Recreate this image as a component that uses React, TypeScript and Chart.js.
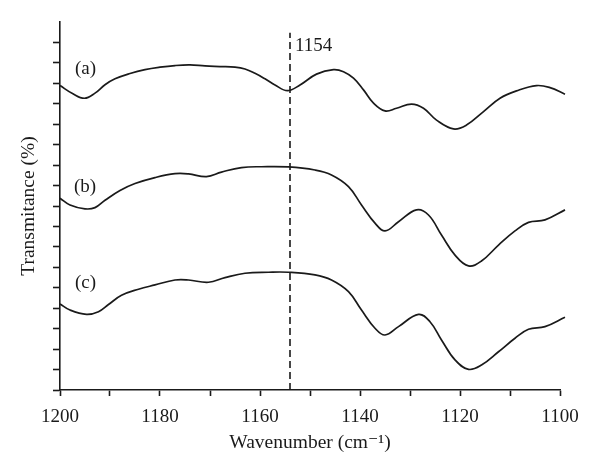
import React, { useEffect, useRef } from 'react';
import { Chart, registerables } from 'chart.js';

Chart.register(...registerables);

// Wavenumber (cm^-1) samples and transmittance values (arbitrary offset units) for each curve
const wavenumbersA = [1200, 1197.5, 1195.1, 1193, 1191, 1189, 1186, 1183, 1180, 1177, 1174, 1171, 1168, 1165, 1163, 1161, 1159, 1157, 1154.5, 1152, 1148.7, 1145.3, 1143.3, 1141.3, 1139.3, 1137.3, 1135, 1132.7, 1129.7, 1127.3, 1124.7, 1121.3, 1118.7, 1115.3, 1112, 1108.7, 1104.7, 1102, 1099];
const valuesA = [14.89, 14.5, 14.27, 14.52, 14.93, 15.22, 15.48, 15.67, 15.79, 15.87, 15.9, 15.85, 15.82, 15.79, 15.7, 15.49, 15.22, 14.92, 14.64, 14.92, 15.45, 15.67, 15.57, 15.25, 14.68, 14.03, 13.65, 13.78, 13.98, 13.78, 13.2, 12.77, 12.96, 13.62, 14.27, 14.63, 14.89, 14.79, 14.47];

const wavenumbersB = [1200, 1198, 1195, 1193, 1191, 1188, 1185, 1181, 1177, 1174.3, 1170.7, 1167.7, 1163.7, 1159.7, 1154.3, 1149, 1145.7, 1142.3, 1139.7, 1137, 1135, 1132.3, 1128.7, 1126.3, 1123.7, 1121, 1118.3, 1115.7, 1112.3, 1109, 1106.3, 1103, 1099];
const valuesB = [9.38, 9.05, 8.86, 8.92, 9.28, 9.76, 10.1, 10.39, 10.58, 10.57, 10.44, 10.66, 10.88, 10.92, 10.91, 10.76, 10.52, 9.95, 9.05, 8.16, 7.78, 8.23, 8.81, 8.56, 7.58, 6.6, 6.07, 6.31, 7.09, 7.78, 8.2, 8.32, 8.81];

const wavenumbersC = [1200, 1198, 1194.7, 1192.3, 1190.3, 1187.7, 1184.3, 1181, 1177, 1174.3, 1170.3, 1167, 1163, 1158.3, 1154.3, 1149, 1145.7, 1142.3, 1139.7, 1137, 1135, 1132.3, 1128.3, 1126, 1123.7, 1121, 1118.3, 1115.7, 1112.3, 1109, 1106.3, 1103, 1099];
const valuesC = [4.21, 3.91, 3.7, 3.83, 4.18, 4.63, 4.93, 5.14, 5.38, 5.38, 5.27, 5.5, 5.71, 5.76, 5.76, 5.63, 5.38, 4.81, 3.91, 3.02, 2.69, 3.1, 3.7, 3.34, 2.45, 1.47, 1.01, 1.22, 1.87, 2.53, 2.97, 3.1, 3.56];

// Marker line
const markerWavenumber = 1154;
const markerSpan = [0, 17.47];
const markerText = '1154';
const markerLabelPos = [1153, 16.83];

// Curve labels
const curveLabels = ['(a)', '(b)', '(c)'];
const curveLabelX = [1194.9, 1195, 1194.9];
const curveLabelY = [15.7, 9.93, 5.25];

// Axes
const xMin = 1100;
const xMax = 1200;
const xStep = 10;
const xLabelStep = 20;
const yMin = 0;
const yMax = 18;
const xTitle = 'Wavenumber (cm⁻¹)';
const yTitle = 'Transmitance (%)';

const FONT = '"Liberation Serif", "DejaVu Serif", serif';
const INK = '#1a1a1a';

const toPoints = (xs: number[], ys: number[]) => xs.map((x, i) => ({ x, y: ys[i] }));

const labelPlugin = {
  id: 'curveLabels',
  afterDatasetsDraw(chart: any) {
    const { ctx, scales } = chart;
    const x = scales.x;
    const y = scales.y;
    ctx.save();
    ctx.fillStyle = INK;
    ctx.font = `19px ${FONT}`;
    ctx.textBaseline = 'middle';
    ctx.textAlign = 'center';
    curveLabels.forEach((t, i) => {
      ctx.fillText(t, x.getPixelForValue(curveLabelX[i]), y.getPixelForValue(curveLabelY[i]));
    });
    ctx.textAlign = 'left';
    ctx.fillText(markerText, x.getPixelForValue(markerLabelPos[0]), y.getPixelForValue(markerLabelPos[1]));
    ctx.restore();
  },
};

export default function App() {
  const canvasRef = useRef<HTMLCanvasElement | null>(null);

  useEffect(() => {
    if (!canvasRef.current) return;
    const lineStyle = {
      borderColor: INK,
      borderWidth: 1.7,
      pointRadius: 0,
      fill: false,
      tension: 0.4,
      clip: false as any,
    };
    const chart = new Chart(canvasRef.current, {
      type: 'line',
      data: {
        datasets: [
          { label: '(a)', data: toPoints(wavenumbersA, valuesA), ...lineStyle },
          { label: '(b)', data: toPoints(wavenumbersB, valuesB), ...lineStyle },
          { label: '(c)', data: toPoints(wavenumbersC, valuesC), ...lineStyle },
          {
            label: 'marker',
            data: [
              { x: markerWavenumber, y: markerSpan[0] },
              { x: markerWavenumber, y: markerSpan[1] },
            ],
            borderColor: INK,
            borderWidth: 1.6,
            borderDash: [7, 4],
            pointRadius: 0,
            tension: 0,
          },
        ],
      },
      options: {
        animation: false,
        responsive: true,
        maintainAspectRatio: false,
        layout: { padding: { top: 22, right: 40, left: 0, bottom: 0 } },
        plugins: { legend: { display: false }, tooltip: { enabled: false } },
        scales: {
          x: {
            type: 'linear',
            min: xMin,
            max: xMax,
            reverse: true,
            afterFit: (s: any) => {
              s.height = 83;
            },
            border: { display: true, color: INK, width: 1.6 },
            grid: { drawOnChartArea: false, drawTicks: true, tickLength: 6, tickColor: INK, tickWidth: 1.6 },
            ticks: {
              stepSize: xStep,
              autoSkip: false,
              maxRotation: 0,
              padding: 10,
              color: INK,
              font: { family: FONT, size: 19 },
              callback: (v: any) => (Number(v) % xLabelStep === 0 ? String(v) : ''),
            },
            title: {
              display: true,
              text: xTitle,
              color: INK,
              font: { family: FONT, size: 19.5 },
              padding: { top: 0, bottom: 18 },
            },
          },
          y: {
            type: 'linear',
            min: yMin,
            max: yMax,
            afterFit: (s: any) => {
              s.width = 60;
            },
            border: { display: true, color: INK, width: 1.6 },
            grid: {
              drawOnChartArea: false,
              drawTicks: true,
              tickLength: 7,
              tickWidth: 1.6,
              tickColor: (c: any) => (c.tick && c.tick.value === yMax ? 'rgba(0,0,0,0)' : INK),
            },
            ticks: { stepSize: 1, display: false },
            title: {
              display: true,
              text: yTitle,
              color: INK,
              font: { family: FONT, size: 19.5 },
              padding: { top: 17, bottom: 0 },
            },
          },
        },
      },
      plugins: [labelPlugin],
    });
    return () => chart.destroy();
  }, []);

  return (
    <div style={{ position: 'absolute', left: 0, top: 0, width: 600, height: 473, background: '#fff' }}>
      <canvas ref={canvasRef} />
    </div>
  );
}
